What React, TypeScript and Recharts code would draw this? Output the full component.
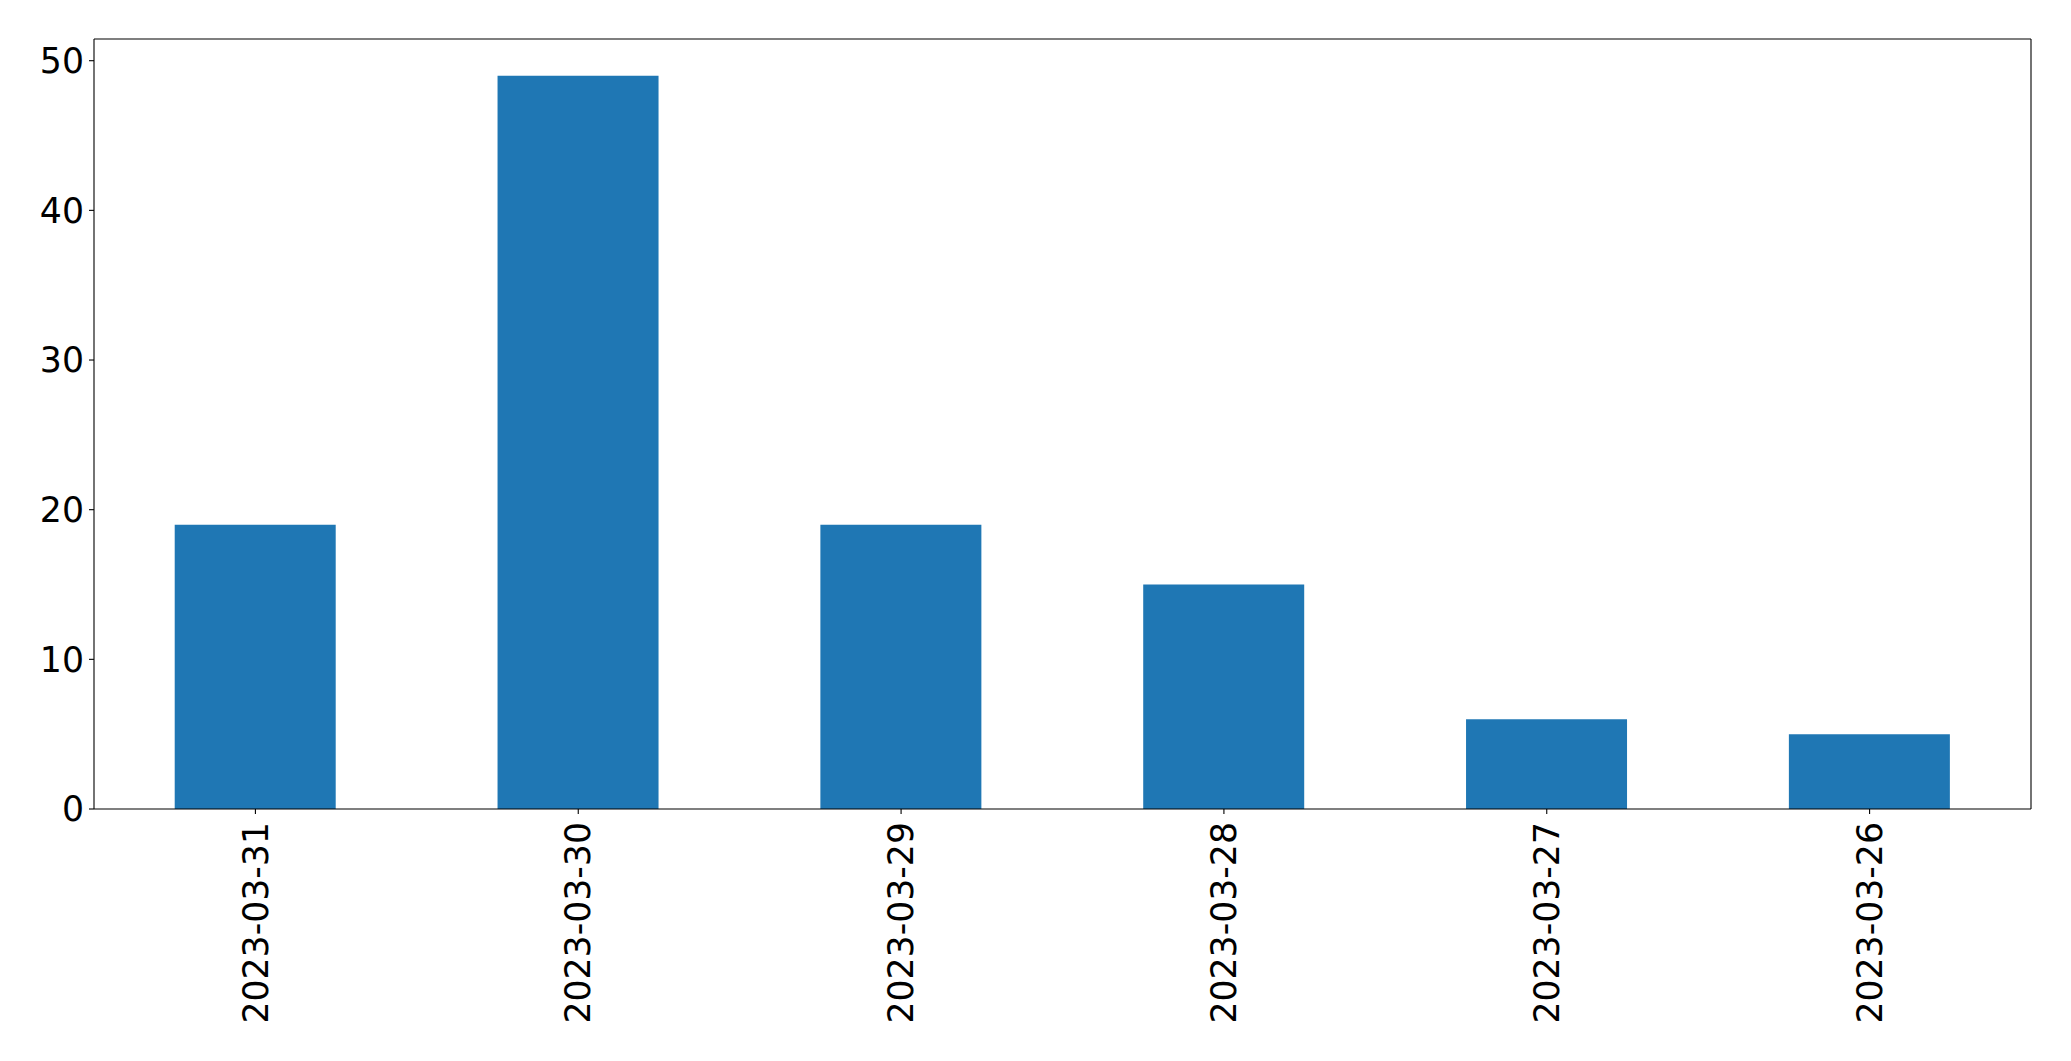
import React from 'react';
import { BarChart, Bar, XAxis, YAxis } from 'recharts';

const dates = ['2023-03-31', '2023-03-30', '2023-03-29', '2023-03-28', '2023-03-27', '2023-03-26'];
const counts = [19, 49, 19, 15, 6, 5];
const yTicks = [0, 10, 20, 30, 40, 50];

const data = dates.map((date, i) => ({ date, count: counts[i] }));

const FONT = 'DejaVu Sans, sans-serif';
const FONT_SIZE = 34.7;
const SPINE = { stroke: '#000', strokeWidth: 1.1 };

const RotatedTick = (props: any) => {
    const { x, y, payload } = props;
    return (
        <text
            x={x}
            y={y}
            transform={`rotate(-90, ${x}, ${y})`}
            textAnchor="end"
            dy="0.35em"
            fill="#000"
            fontFamily={FONT}
            fontSize={FONT_SIZE}
        >
            {payload.value}
        </text>
    );
};

const App: React.FC = () => {
    return (
        <div style={{ position: 'absolute', left: 0, top: 0, width: 2071, height: 1061, background: '#fff' }}>
            <BarChart
                width={2071}
                height={1061}
                data={data}
                margin={{ top: 38, right: 39, bottom: 0, left: 0 }}
                barCategoryGap="25%"
            >
                <XAxis
                    dataKey="date"
                    height={252}
                    interval={0}
                    stroke="#000"
                    tick={<RotatedTick />}
                    tickSize={5}
                    tickMargin={8}
                    axisLine={SPINE}
                    tickLine={SPINE}
                />
                <XAxis
                    xAxisId="top"
                    orientation="top"
                    dataKey="date"
                    height={1}
                    stroke="#000"
                    tick={false}
                    tickLine={false}
                    axisLine={SPINE}
                />
                <YAxis
                    width={94}
                    domain={[0, 51.45]}
                    ticks={yTicks}
                    allowDataOverflow
                    stroke="#000"
                    tickSize={5}
                    tickMargin={5}
                    tick={{ fill: '#000', fontFamily: FONT, fontSize: FONT_SIZE }}
                    axisLine={SPINE}
                    tickLine={SPINE}
                />
                <YAxis
                    yAxisId="right"
                    orientation="right"
                    width={1}
                    stroke="#000"
                    tick={false}
                    tickLine={false}
                    axisLine={SPINE}
                />
                <Bar dataKey="count" fill="#1f77b4" isAnimationActive={false} />
            </BarChart>
        </div>
    );
};

export default App;
